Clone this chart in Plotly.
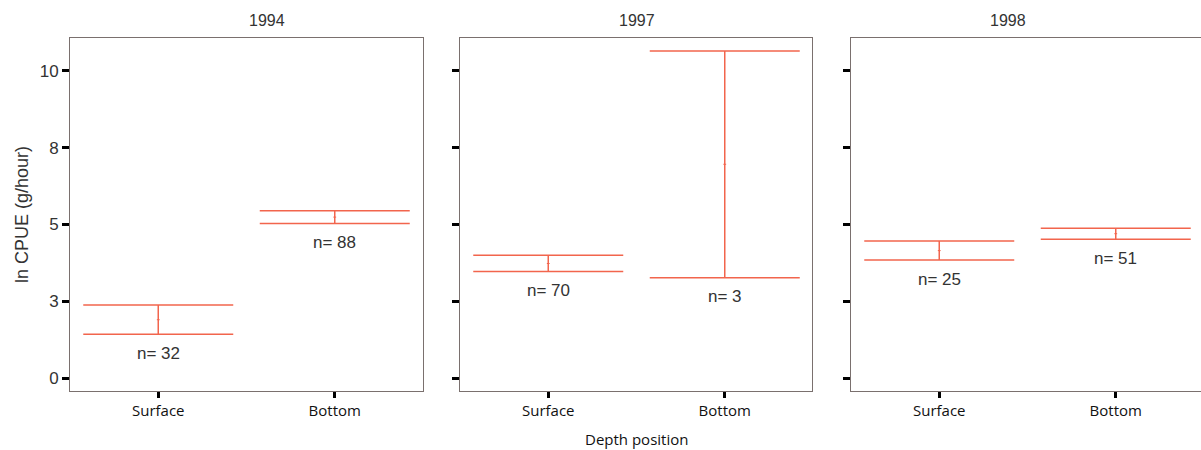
import plotly.graph_objects as go

# CPUE by depth position and year (mean with interval bounds)
years = ["1994", "1997", "1998"]
positions = ["Surface", "Bottom"]
mean_cpue = {
    "1994": [1.90, 5.24],
    "1997": [3.73, 6.96],
    "1998": [4.15, 4.70],
}
upper_cpue = {
    "1994": [2.38, 5.45],
    "1997": [4.00, 10.65],
    "1998": [4.46, 4.88],
}
lower_cpue = {
    "1994": [1.43, 5.03],
    "1997": [3.47, 3.27],
    "1998": [3.84, 4.52],
}
n_obs = {
    "1994": [32, 88],
    "1997": [70, 3],
    "1998": [25, 51],
}
y_tickvals = [0, 2.5, 5, 7.5, 10]
y_ticktext = ["0", "3", "5", "8", "10"]

W, H = 1201, 450
bar_color = "#F2654D"
frame_color = "#7A706E"
helv = "Liberation Sans"

# panel extents in pixels
panels_px = [(70, 423), (460, 812), (851, 1201)]
full_w = 353

fig = go.Figure()
for i, yr in enumerate(years):
    k = "" if i == 0 else str(i + 1)
    m = mean_cpue[yr]
    up = [u - mm for u, mm in zip(upper_cpue[yr], m)]
    dn = [mm - lo for lo, mm in zip(lower_cpue[yr], m)]
    fig.add_trace(go.Scatter(
        x=positions, y=m, mode="markers",
        marker=dict(symbol="line-ew", size=2, color=bar_color,
                    line=dict(color=bar_color, width=1)),
        error_y=dict(type="data", symmetric=False, array=up, arrayminus=dn,
                     color=bar_color, thickness=1.5, width=75),
        xaxis="x" + k, yaxis="y" + k, showlegend=False, hoverinfo="skip",
    ))
    for j, pos in enumerate(positions):
        fig.add_annotation(
            x=pos, y=lower_cpue[yr][j], xref="x" + k, yref="y" + k,
            text=f"n= {n_obs[yr][j]}", showarrow=False, yanchor="middle",
            yshift=-19, font=dict(family=helv, size=17, color="#333333"),
        )
    x0, x1 = panels_px[i]
    xr_end = -0.5 + 2 * (x1 - x0) / full_w
    fig.update_layout(**{
        "xaxis" + k: dict(
            domain=[x0 / W, x1 / W], range=[-0.5, xr_end], type="category",
            anchor="y" + k, showline=True, mirror=True, linecolor=frame_color,
            linewidth=1, ticks="outside", ticklen=6, tickwidth=3,
            tickcolor="black", showgrid=False, zeroline=False,
            tickfont=dict(family="Open Sans", size=15, color="#111111"),
        ),
        "yaxis" + k: dict(
            domain=[0, 1], range=[-0.42, 11.07], anchor="x" + k,
            showline=True, mirror=(i < 2), linecolor=frame_color, linewidth=1,
            ticks="outside", ticklen=7, tickwidth=3, tickcolor="black",
            tickvals=y_tickvals, ticktext=y_ticktext, showticklabels=(i == 0),
            showgrid=False, zeroline=False,
            tickfont=dict(family=helv, size=17, color="#333333"),
            title=dict(text="ln CPUE (g/hour)" if i == 0 else "", standoff=6,
                       font=dict(family=helv, size=18, color="#333333")),
        ),
    })
    fig.add_annotation(
        x=(x0 + full_w / 2) / W, y=1, xref="paper", yref="paper",
        text=yr, showarrow=False, yanchor="bottom", yshift=7,
        font=dict(family=helv, size=16, color="#333333"),
    )

fig.add_annotation(
    x=636 / W, y=0, xref="paper", yref="paper", text="Depth position",
    showarrow=False, yanchor="middle", yshift=-48,
    font=dict(family="Open Sans", size=15, color="#111111"),
)

fig.update_layout(
    width=W, height=H,
    margin=dict(l=0, r=0, t=38, b=59, autoexpand=False),
    paper_bgcolor="white", plot_bgcolor="white",
)
fig.write_html("out.html")
